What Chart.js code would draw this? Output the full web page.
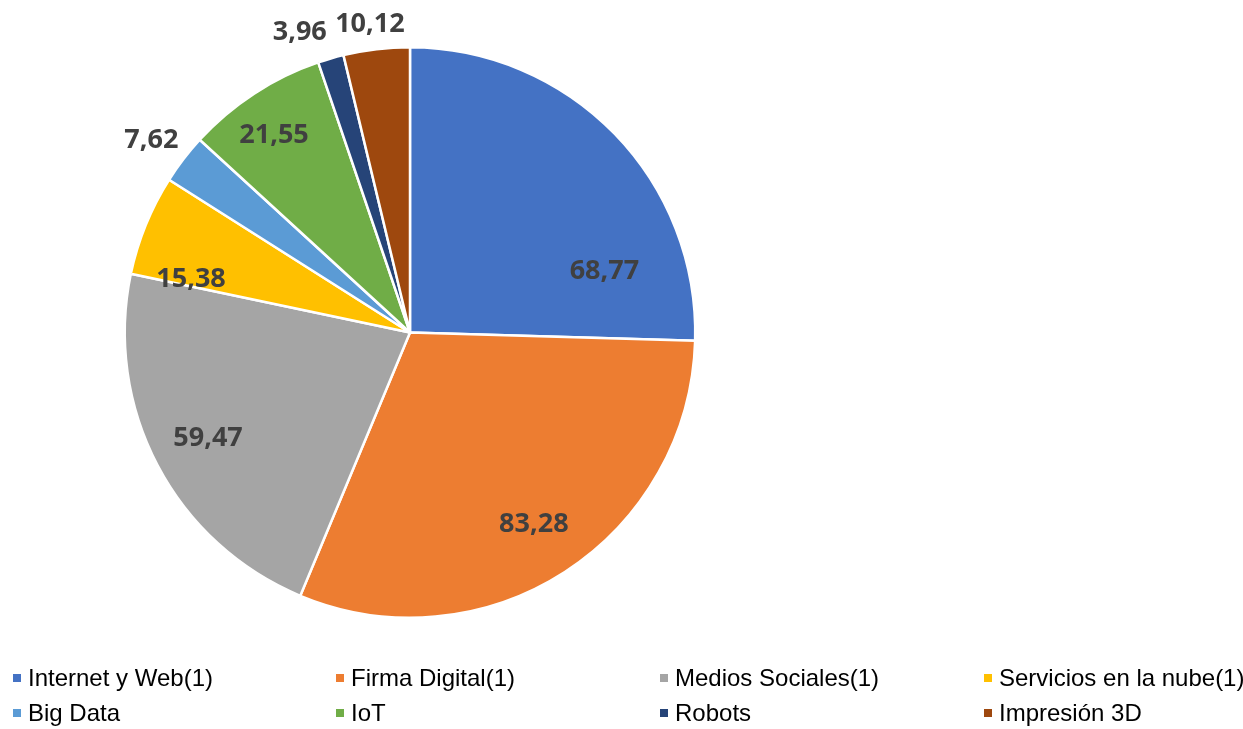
<!DOCTYPE html>
<html>
<head>
<meta charset="utf-8">
<script src="https://cdn.jsdelivr.net/npm/chart.js@4/dist/chart.umd.min.js"></script>
<style>
  html, body { margin: 0; padding: 0; background: #ffffff; }
  #wrap { width: 1243px; height: 729px; position: relative; }
</style>
</head>
<body>
<div id="wrap"><canvas id="techPie"></canvas></div>
<script>
// Data for the chart
const categories = ["Internet y Web(1)", "Firma Digital(1)", "Medios Sociales(1)", "Servicios en la nube(1)",
  "Big Data", "IoT", "Robots", "Impresión 3D"];
const values = [68.77, 83.28, 59.47, 15.38, 7.62, 21.55, 3.96, 10.12];
const valueLabels = ["68,77", "83,28", "59,47", "15,38", "7,62", "21,55", "3,96", "10,12"];
const colors = ["#4472C4", "#ED7D31", "#A5A5A5", "#FFC000", "#5B9BD5", "#70AD47", "#264478", "#9E480E"];

// where each value label sits: fraction along the slice angle, fraction of radius
const labelAngleFrac = [0.79, 0.5, 0.5, 0.09, 0.42, 0.45, -0.27, 0.45];
const labelRadiusFrac = [0.715, 0.8, 0.8, 0.79, 1.13, 0.84, 1.12, 1.09];

// value labels drawn on/around the slices
const valueLabelPlugin = {
  id: 'valueLabels',
  afterDatasetsDraw(chart) {
    const ctx = chart.ctx;
    const arcs = chart.getDatasetMeta(0).data;
    ctx.save();
    ctx.font = 'bold 27px "Open Sans", sans-serif';
    ctx.fillStyle = '#404040';
    ctx.textAlign = 'center';
    ctx.textBaseline = 'middle';
    arcs.forEach((arc, i) => {
      const p = arc.getProps(['x', 'y', 'startAngle', 'endAngle', 'outerRadius'], true);
      const a = p.startAngle + labelAngleFrac[i] * (p.endAngle - p.startAngle);
      const r = p.outerRadius * labelRadiusFrac[i];
      ctx.fillText(valueLabels[i], p.x + Math.cos(a) * r, p.y + Math.sin(a) * r);
    });
    ctx.restore();
  }
};

// legend in a 4-column grid under the pie
const gridLegendPlugin = {
  id: 'gridLegend',
  afterDraw(chart) {
    const ctx = chart.ctx;
    const colX = [13, 336, 660, 984];
    const rowY = [678, 713];
    ctx.save();
    ctx.font = '24px "Liberation Sans", Arial, sans-serif';
    ctx.textBaseline = 'middle';
    ctx.textAlign = 'left';
    chart.data.labels.forEach((lab, i) => {
      const x = colX[i % 4];
      const y = rowY[Math.floor(i / 4)];
      ctx.fillStyle = chart.data.datasets[0].backgroundColor[i];
      ctx.fillRect(x, y - 4, 8, 8);
      ctx.fillStyle = '#000000';
      ctx.fillText(lab, x + 15, y + 1);
    });
    ctx.restore();
  }
};

const config = {
  type: 'pie',
  data: {
    labels: categories,
    datasets: [{
      data: values,
      backgroundColor: colors,
      borderColor: '#ffffff',
      borderWidth: 2.5
    }]
  },
  options: {
    responsive: true,
    maintainAspectRatio: false,
    animation: false,
    layout: { padding: { top: 46, bottom: 110, left: 0, right: 423 } },
    plugins: {
      legend: { display: false },
      tooltip: { enabled: false }
    }
  },
  plugins: [valueLabelPlugin, gridLegendPlugin]
};

// Create the chart
window.addEventListener('DOMContentLoaded', () => {
  const techPie = new Chart(document.getElementById("techPie"), config);
});
</script>
</body>
</html>
